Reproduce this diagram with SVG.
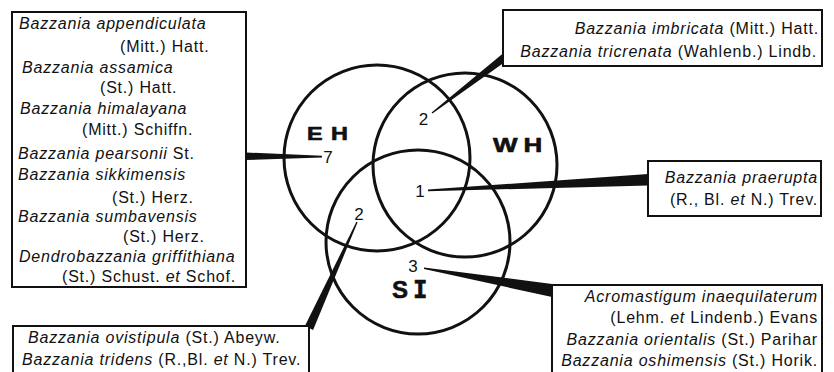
<svg xmlns="http://www.w3.org/2000/svg" width="834" height="372" viewBox="0 0 834 372">
<style>
.bg{fill:#fff}
.box{fill:#fff;stroke:#111;stroke-width:2}
.c{fill:none;stroke:#111;stroke-width:3}
.w{fill:#111;stroke:none}
.t{font-family:"Liberation Sans",Arial,sans-serif;font-size:16px;letter-spacing:0.8px;fill:#111}
.i{font-style:italic}
.e{text-anchor:end}
.n{font-family:"Liberation Sans",Arial,sans-serif;font-size:17px;fill:#111;text-anchor:middle}
.lb{font-family:"Liberation Sans",Arial,sans-serif;font-weight:bold;fill:#111;stroke:#111;stroke-width:0.6}
</style>
<rect class="bg" x="0" y="0" width="834" height="372"/>

<g id="circle-eh">
  <circle class="c" cx="377" cy="158" r="93"/>
  <text class="lb" font-size="18" transform="translate(307,140) scale(1.3,1)" x="0 18.5" y="0">EH</text>
</g>
<g id="circle-wh">
  <circle class="c" cx="465" cy="165" r="92"/>
  <text class="lb" font-size="20" transform="translate(493,152) scale(1.3,1)" x="0 23.5" y="0">WH</text>
</g>
<g id="circle-si">
  <circle class="c" cx="418" cy="242" r="92"/>
  <text class="lb" font-size="24" y="298"><tspan x="392">S</tspan><tspan x="413" font-family="'DejaVu Sans Mono',monospace">I</tspan></text>
</g>

<g id="connectors">
  <polygon class="w" points="246,152.5 322,155.8 322,157.4 246,160"/>
  <polygon class="w" points="431.6,112.4 502.6,53.8 507.4,60.2 432.4,113.6"/>
  <polygon class="w" points="428,189.6 648,174 648,185.5 428,191.2"/>
  <polygon class="w" points="356.4,221.7 304.9,326.1 313.1,329.9 357.6,222.3"/>
  <polygon class="w" points="424,267.4 552,284 552,297 424,269"/>
</g>

<g id="counts">
  <text class="n" x="423.5" y="125">2</text>
  <text class="n" x="328" y="163">7</text>
  <text class="n" x="420" y="197">1</text>
  <text class="n" x="359" y="220">2</text>
  <text class="n" x="413" y="272">3</text>
</g>

<g id="box-eh">
  <rect class="box" x="12" y="12" width="234" height="275"/>
  <text class="t i" x="19" y="29">Bazzania appendiculata</text>
  <text class="t" x="120" y="52">(Mitt.) Hatt.</text>
  <text class="t i" x="22" y="73">Bazzania assamica</text>
  <text class="t" x="100" y="93">(St.) Hatt.</text>
  <text class="t i" x="20" y="114">Bazzania himalayana</text>
  <text class="t" x="82" y="135">(Mitt.) Schiffn.</text>
  <text class="t" x="18" y="159"><tspan class="i">Bazzania pearsonii</tspan> St.</text>
  <text class="t i" x="18" y="180">Bazzania sikkimensis</text>
  <text class="t" x="112" y="203">(St.) Herz.</text>
  <text class="t i" x="18" y="222">Bazzania sumbavensis</text>
  <text class="t" x="123" y="242">(St.) Herz.</text>
  <text class="t i" x="19" y="262">Dendrobazzania griffithiana</text>
  <text class="t" x="62" y="282">(St.) Schust. <tspan class="i">et</tspan> Schof.</text>
</g>

<g id="box-eh-wh">
  <rect class="box" x="503" y="10" width="319" height="56"/>
  <text class="t e" x="819" y="34"><tspan class="i">Bazzania imbricata</tspan> (Mitt.) Hatt.</text>
  <text class="t e" x="817" y="57"><tspan class="i">Bazzania tricrenata</tspan> (Wahlenb.) Lindb.</text>
</g>

<g id="box-all">
  <rect class="box" x="648" y="161" width="173" height="55"/>
  <text class="t e i" x="818" y="183">Bazzania praerupta</text>
  <text class="t e" x="818" y="205">(R., Bl. <tspan class="i">et</tspan> N.) Trev.</text>
</g>

<g id="box-si">
  <rect class="box" x="552" y="285" width="270" height="92"/>
  <text class="t e i" x="818" y="302">Acromastigum inaequilaterum</text>
  <text class="t e" x="818" y="323">(Lehm. <tspan class="i">et</tspan> Lindenb.) Evans</text>
  <text class="t e" x="818" y="345"><tspan class="i">Bazzania orientalis</tspan> (St.) Parihar</text>
  <text class="t e" x="818" y="366"><tspan class="i">Bazzania oshimensis</tspan> (St.) Horik.</text>
</g>

<g id="box-eh-si">
  <rect class="box" x="13" y="326" width="296" height="52"/>
  <text class="t" x="28" y="343"><tspan class="i">Bazzania ovistipula</tspan> (St.) Abeyw.</text>
  <text class="t" x="22" y="365"><tspan class="i">Bazzania tridens</tspan> (R.,Bl. <tspan class="i">et</tspan> N.) Trev.</text>
</g>
</svg>
